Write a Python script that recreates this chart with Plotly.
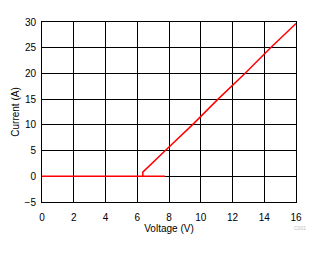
import plotly.graph_objects as go

# Data
off_v = [0.0, 7.75]
off_i = [0.0, 0.0]
on_v = [6.35, 6.35, 7.77, 9.47, 11.09, 12.78, 14.4, 16.0]
on_i = [0.0, 0.8, 5.0, 10.0, 15.0, 20.0, 25.0, 29.7]
x_ticks = [0, 2, 4, 6, 8, 10, 12, 14, 16]
y_ticks = [-5, 0, 5, 10, 15, 20, 25, 30]

fig = go.Figure()
fig.add_trace(go.Scatter(x=off_v, y=off_i, mode="lines",
                         line=dict(color="#FF0000", width=1.5), showlegend=False))
fig.add_trace(go.Scatter(x=on_v, y=on_i, mode="lines",
                         line=dict(color="#FF0000", width=1.5), showlegend=False))

axis_common = dict(showgrid=True, gridcolor="black", gridwidth=1,
                   showline=True, linecolor="black", linewidth=1, mirror=True,
                   zeroline=False, ticks="outside", tickcolor="rgba(0,0,0,0)",
                   tickfont=dict(size=10, color="black"))

fig.update_xaxes(range=[0, 16], tickvals=x_ticks, ticklen=6,
                 title=dict(text="Voltage (V)", font=dict(size=10, color="black"), standoff=0),
                 **axis_common)
fig.update_yaxes(range=[-5, 30], tickvals=y_ticks, ticklen=3,
                 title=dict(text="Current (A)", font=dict(size=10, color="black"), standoff=3),
                 **axis_common)

fig.add_annotation(text="C001", xref="paper", yref="paper", x=1.047, y=-0.172,
                   showarrow=False, font=dict(size=5, color="#bbbbbb"))

fig.update_layout(width=329, height=254,
                  margin=dict(l=42, r=33, t=22, b=52),
                  paper_bgcolor="white", plot_bgcolor="white",
                  font=dict(family="Liberation Sans, Arial, sans-serif", size=10, color="black"))

fig.write_html("out.html")
